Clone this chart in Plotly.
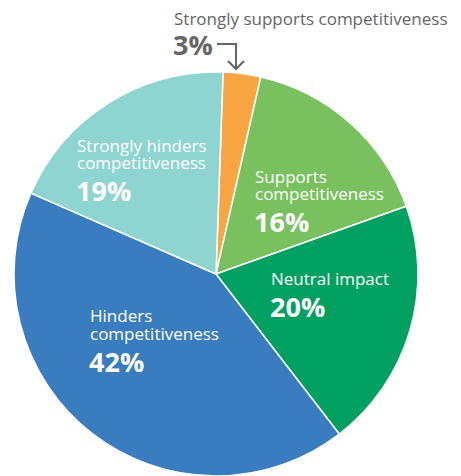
import plotly.graph_objects as go

categories = ["Strongly supports competitiveness", "Supports competitiveness",
              "Neutral impact", "Hinders competitiveness",
              "Strongly hinders competitiveness"]
values = [3, 16, 20, 42, 19]
colors = ["#F9A542", "#78C15E", "#00A160", "#3A7CC0", "#8ED4D0"]

W, H = 461, 476
OFF = 8  # page body margin offset
FONT = "Open Sans"


def px(x, y):
    return (x - OFF) / W, 1 - (y - OFF) / H


x0, y0 = px(14, 72)
x1, y1 = px(418, 476)

fig = go.Figure(go.Pie(
    labels=categories, values=values, sort=False, direction="clockwise",
    rotation=2, textinfo="none", hoverinfo="label+percent",
    marker=dict(colors=colors, line=dict(color="white", width=1.5)),
    domain=dict(x=[x0, x1], y=[y1, y0]),
    showlegend=False,
))


def ann(text, x, y, size, color, bold=False):
    ax, ay = px(x, y)
    fig.add_annotation(
        text=f"<b>{text}</b>" if bold else text, x=ax, y=ay,
        xref="paper", yref="paper", xanchor="left", yanchor="middle",
        showarrow=False, font=dict(family=FONT, size=size, color=color))


# label blocks: (lines, percent, x, y of first line)
blocks = [
    (["Strongly hinders", "competitiveness"], f"{values[4]}%", 75, 145),
    (["Supports", "competitiveness"], f"{values[1]}%", 253, 176),
    (["Neutral impact"], f"{values[2]}%", 269, 278),
    (["Hinders", "competitiveness"], f"{values[3]}%", 88, 315),
]
for lines, pct, x, y in blocks:
    for i, ln in enumerate(lines):
        ann(ln, x, y + 18 * i, 17, "white")
    ann(pct, x - 1, y + 18 * (len(lines) - 1) + 28, 27, "white", bold=True)

ann(categories[0], 172, 18, 17, "#666666")
ann(f"{values[0]}%", 171, 45, 27, "#666666", bold=True)

# arrow connector
ax0, ay0 = px(217, 44)
ax1, ay1 = px(236, 44)
ax2, ay2 = px(236, 69)
fig.add_shape(type="path", xref="paper", yref="paper",
              path=f"M {ax0} {ay0} L {ax1} {ay1} L {ax2} {ay2}",
              line=dict(color="#666666", width=2))
hl, hly = px(228, 61)
hr, hry = px(244, 61)
fig.add_shape(type="path", xref="paper", yref="paper",
              path=f"M {hl} {hly} L {ax2} {ay2} L {hr} {hry}",
              line=dict(color="#666666", width=2))

fig.update_layout(width=W, height=H, margin=dict(l=0, r=0, t=0, b=0),
                  paper_bgcolor="white", plot_bgcolor="white")
fig.write_html("out.html")
